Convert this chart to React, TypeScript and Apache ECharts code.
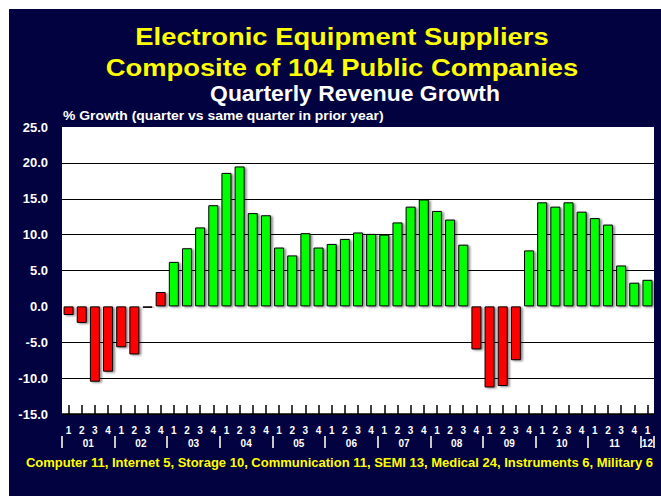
import React, { useEffect, useRef } from "react";
import * as echarts from "echarts";

const FONT = '"Liberation Sans", Arial, Helvetica, sans-serif';

const years = ["01", "02", "03", "04", "05", "06", "07", "08", "09", "10", "11", "12"];
const quarters = ["1", "2", "3", "4"];
// 2001 Q1 ... 2012 Q1
const categories: string[] = [
  ...years.slice(0, 11).flatMap((y) => quarters.map((q) => `${y}Q${q}`)),
  "12Q1",
];

// % growth, quarter vs same quarter in prior year
const growth = [
  -1.2, -2.3, -10.5, -9.1, // 01
  -5.7, -6.7, -0.2, 2.0, // 02
  6.2, 8.1, 11.0, 14.1, // 03
  18.6, 19.5, 13.0, 12.7, // 04
  8.2, 7.1, 10.2, 8.2, // 05
  8.7, 9.4, 10.3, 10.1, // 06
  10.0, 11.7, 13.9, 14.9, // 07
  13.3, 12.1, 8.6, -6.0, // 08
  -11.3, -11.1, -7.5, 7.8, // 09
  14.5, 13.9, 14.5, 13.2, // 10
  12.3, 11.4, 5.7, 3.3, // 11
  3.7, // 12
];

const yMin = -15;
const yMax = 25;
const yStep = 5;

const titleLines = ["Electronic Equipment Suppliers", "Composite of 104 Public Companies"];
const subTitle = "Quarterly Revenue Growth";
const axisNote = "% Growth (quarter vs same quarter in prior year)";
const footer =
  "Computer 11, Internet 5, Storage 10, Communication 11, SEMI 13, Medical 24, Instruments 6, Military 6";

export default function App() {
  const ref = useRef<HTMLDivElement>(null);

  useEffect(() => {
    if (!ref.current) return;
    const chart = echarts.init(ref.current, undefined, { renderer: "svg" });

    // year boundaries/centers along the category axis (in category units)
    const yearStart: number[] = [];
    const yearCount: number[] = [];
    years.forEach((y) => {
      const first = categories.findIndex((c) => c.startsWith(y + "Q"));
      const count = categories.filter((c) => c.startsWith(y + "Q")).length;
      yearStart.push(first);
      yearCount.push(count);
    });
    const yearBounds = [...yearStart, categories.length];
    const yearCenters = yearStart.map((s, i) => s + yearCount[i] / 2);

    const gridColors: string[] = [];
    for (let v = yMin; v <= yMax; v += yStep) {
      gridColors.push(v === 0 || v === yMax ? "rgba(0,0,0,0)" : "#000000");
    }

    chart.setOption({
      animation: false,
      backgroundColor: "#020240",
      textStyle: { fontFamily: FONT },
      grid: {
        left: 53,
        right: 7,
        top: 118,
        bottom: 82,
        show: true,
        backgroundColor: "#ffffff",
        borderWidth: 0,
      },
      xAxis: [
        {
          type: "category",
          data: categories,
          position: "bottom",
          axisLine: { show: true, onZero: false, lineStyle: { color: "#000", width: 1.5 } },
          axisTick: {
            show: true,
            inside: true,
            alignWithLabel: true,
            length: 9,
            lineStyle: { color: "#000", width: 1.5 },
          },
          axisLabel: {
            interval: 0,
            color: "#ffffff",
            fontFamily: FONT,
            fontWeight: "bold",
            fontSize: 10,
            margin: 11,
            formatter: (v: string) => v.split("Q")[1],
          },
          splitLine: { show: false },
        },
        {
          type: "value",
          min: 0,
          max: categories.length,
          position: "bottom",
          offset: 22,
          axisLine: { show: true, onZero: false, lineStyle: { color: "rgba(0,0,0,0)", width: 0 } },
          axisTick: {
            show: true,
            customValues: yearBounds,
            length: 12,
            lineStyle: { color: "#c8c8c8", width: 2 },
          },
          axisLabel: {
            customValues: yearCenters,
            color: "#ffffff",
            fontFamily: FONT,
            fontWeight: "bold",
            fontSize: 10,
            margin: 2,
            formatter: (v: number) => {
              const i = yearStart.findIndex((s, k) => v > s && v < s + yearCount[k]);
              return i >= 0 ? years[i] : "";
            },
          },
          splitLine: { show: false },
        },
      ],
      yAxis: {
        type: "value",
        min: yMin,
        max: yMax,
        interval: yStep,
        axisLine: { show: false },
        axisTick: { show: false },
        axisLabel: {
          color: "#ffffff",
          fontFamily: FONT,
          fontWeight: "bold",
          fontSize: 13,
          margin: 14,
          formatter: (v: number) => v.toFixed(1),
        },
        splitLine: { show: true, lineStyle: { color: gridColors, width: 1 } },
      },
      series: [
        {
          type: "bar",
          xAxisIndex: 0,
          data: growth,
          barWidth: 10,
          itemStyle: {
            color: (p: any) => (p.dataIndex < 8 || p.value < 0 ? "#ff0000" : "#00ff00"),
            borderColor: "#000000",
            borderWidth: 1,
            shadowColor: "rgba(0,0,0,0.45)",
            shadowBlur: 2,
            shadowOffsetX: 2,
            shadowOffsetY: 1,
          },
        },
      ],
      graphic: [
        {
          type: "text",
          x: 333,
          y: 28,
          scaleX: 1.14,
          style: {
            text: titleLines[0],
            fill: "#ffff00",
            font: `bold 24px ${FONT}`,
            align: "center",
            verticalAlign: "middle",
          },
        },
        {
          type: "text",
          x: 333,
          y: 59,
          scaleX: 1.14,
          style: {
            text: titleLines[1],
            fill: "#ffff00",
            font: `bold 24px ${FONT}`,
            align: "center",
            verticalAlign: "middle",
          },
        },
        {
          type: "text",
          x: 346,
          y: 85,
          scaleX: 1.04,
          style: {
            text: subTitle,
            fill: "#ffffff",
            font: `bold 22px ${FONT}`,
            align: "center",
            verticalAlign: "middle",
          },
        },
        {
          type: "text",
          x: 54,
          y: 107,
          scaleX: 1.07,
          style: {
            text: axisNote,
            fill: "#ffffff",
            font: `bold 13px ${FONT}`,
            align: "left",
            verticalAlign: "middle",
          },
        },
        {
          type: "text",
          x: 330.5,
          y: 453,
          style: {
            text: footer,
            fill: "#ffff00",
            font: `bold 13px ${FONT}`,
            align: "center",
            verticalAlign: "middle",
          },
        },
      ],
    });

    return () => chart.dispose();
  }, []);

  return (
    <div
      ref={ref}
      style={{ position: "fixed", left: 9, top: 9, width: 652, height: 487 }}
    />
  );
}
